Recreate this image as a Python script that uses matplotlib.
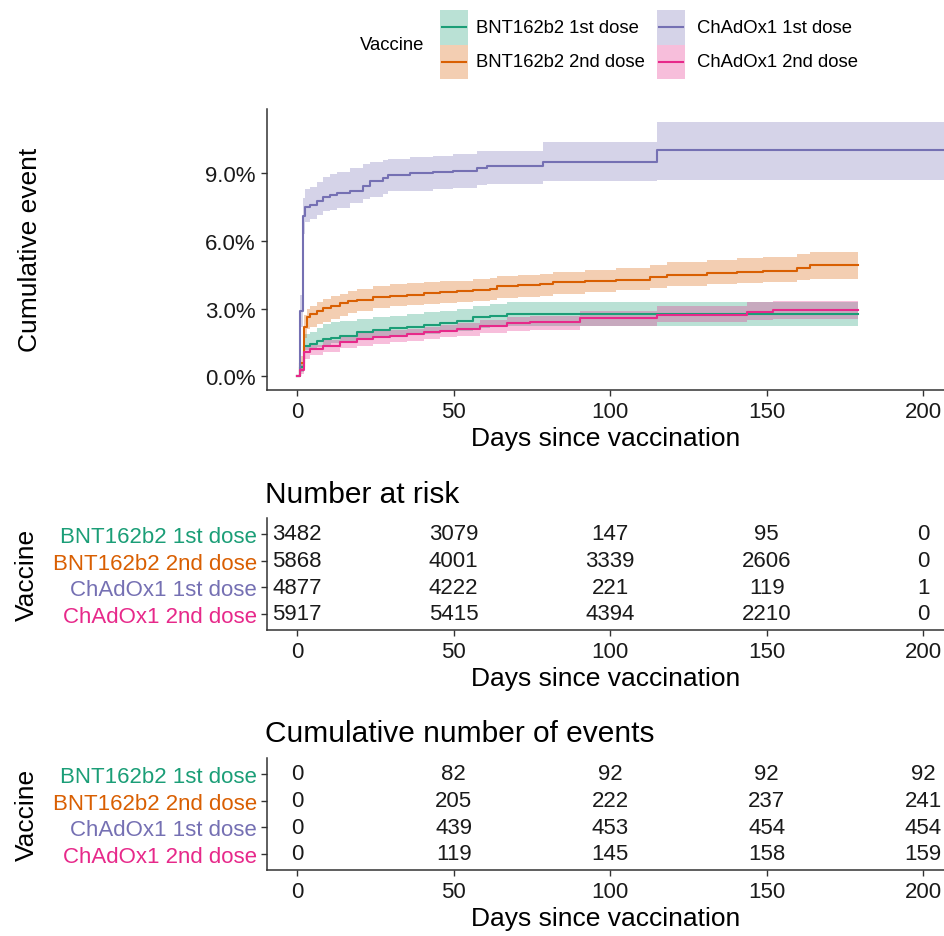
import numpy as np
import matplotlib
matplotlib.use("Agg")
import matplotlib.pyplot as plt
from matplotlib.patches import Rectangle

plt.rcParams['font.family'] = ['Liberation Sans', 'DejaVu Sans']

# Группы и цвета (Dark2)
groups = ["BNT162b2 1st dose", "BNT162b2 2nd dose", "ChAdOx1 1st dose", "ChAdOx1 2nd dose"]
colors = ["#1B9E77", "#D95F02", "#7570B3", "#E7298A"]

# Кумулятивная доля событий, % (ступенчатые кривые: день, оценка, нижняя и верхняя граница)
bnt1_t = [0, 1.0, 2.2, 4.15, 6.3, 8.4, 11, 13.7, 19.1, 24.4, 29.7, 35, 40.4, 45.7, 51, 56.3, 61.7, 67, 179.3]
bnt1_est = [0, 0.4, 1.36, 1.43, 1.55, 1.65, 1.71, 1.77, 1.95, 2.06, 2.12, 2.2, 2.27, 2.36, 2.46, 2.61, 2.68, 2.76, 2.76]
bnt1_hi = [0, 0.6, 1.87, 1.98, 2.15, 2.32, 2.4, 2.45, 2.54, 2.61, 2.68, 2.76, 2.83, 2.9, 2.98, 3.1, 3.2, 3.3, 3.3]
bnt1_lo = [0, 0.2, 1.15, 1.21, 1.32, 1.4, 1.48, 1.55, 1.65, 1.72, 1.77, 1.82, 1.87, 1.95, 2.02, 2.12, 2.2, 2.24, 2.24]

bnt2_t = [0, 1.0, 2.2, 3.1, 4.15, 6.3, 8.4, 11, 13.7, 16.4, 19.1, 24.4, 29.7, 35, 40.4, 45.7, 51, 56.3,
          61.7, 63.8, 70.7, 77.6, 81.9, 92, 102, 112.8, 118.1, 130.9, 140.5, 149, 159.6, 163.9, 179.3]
bnt2_est = [0, 0.6, 2.17, 2.61, 2.76, 2.89, 3.01, 3.13, 3.24, 3.32, 3.39, 3.52, 3.57, 3.62, 3.67, 3.73, 3.79, 3.83,
            3.86, 3.98, 4.03, 4.09, 4.16, 4.22, 4.28, 4.38, 4.5, 4.56, 4.63, 4.67, 4.78, 4.93, 4.93]
bnt2_hi = [0, 0.9, 2.7, 2.98, 3.1, 3.28, 3.42, 3.55, 3.66, 3.76, 3.86, 3.98, 4.09, 4.13, 4.16, 4.2, 4.23, 4.3,
           4.36, 4.45, 4.5, 4.55, 4.62, 4.7, 4.78, 4.92, 5.05, 5.13, 5.22, 5.27, 5.4, 5.52, 5.52]
bnt2_lo = [0, 0.3, 1.7, 2.09, 2.2, 2.3, 2.39, 2.55, 2.68, 2.8, 2.9, 3.02, 3.1, 3.16, 3.21, 3.25, 3.28, 3.33,
           3.37, 3.48, 3.52, 3.57, 3.66, 3.74, 3.82, 3.92, 4.01, 4.07, 4.12, 4.16, 4.25, 4.31, 4.31]

chad1_t = [0, 1.0, 1.8, 2.6, 4.2, 6.3, 8.4, 10.5, 12.7, 17, 21.2, 23.3, 27.6, 29.2, 36.1, 43.5, 49.9, 57.4,
           60.6, 78.7, 114.9, 207]
chad1_est = [0, 2.9, 7.11, 7.48, 7.58, 7.75, 7.92, 8.02, 8.11, 8.22, 8.44, 8.63, 8.76, 8.91, 8.99, 9.03, 9.1, 9.21,
             9.32, 9.5, 10.03, 10.03]
chad1_hi = [0, 3.6, 7.9, 8.29, 8.4, 8.6, 8.8, 8.95, 9.03, 9.2, 9.4, 9.47, 9.58, 9.62, 9.7, 9.77, 9.85, 9.95,
            9.99, 10.39, 11.27, 11.27]
chad1_lo = [0, 2.2, 6.3, 6.82, 6.95, 7.15, 7.3, 7.38, 7.45, 7.65, 7.85, 7.95, 8.08, 8.18, 8.22, 8.27, 8.32, 8.45,
            8.51, 8.66, 8.7, 8.7]

chad2_t = [0, 1.0, 2.2, 4.15, 8.4, 13.7, 19.1, 24.4, 29.7, 35, 40.4, 45.7, 51, 58.5, 67, 74.4, 90.4, 114.9,
           143.7, 152.2, 179.3]
chad2_est = [0, 0.3, 1.06, 1.21, 1.36, 1.53, 1.65, 1.72, 1.8, 1.88, 1.95, 2.02, 2.09, 2.21, 2.36, 2.4, 2.57, 2.71,
             2.86, 2.95, 2.95]
chad2_hi = [0, 0.5, 1.3, 1.4, 1.6, 1.78, 1.95, 2.0, 2.05, 2.1, 2.17, 2.27, 2.37, 2.5, 2.62, 2.68, 2.9, 3.13,
            3.28, 3.35, 3.35]
chad2_lo = [0, 0.1, 0.77, 0.95, 1.1, 1.25, 1.33, 1.42, 1.5, 1.58, 1.65, 1.72, 1.8, 1.9, 2.0, 2.05, 2.21, 2.4,
            2.48, 2.52, 2.52]

# Таблицы под графиком
table_times = [0, 50, 100, 150, 200]
at_risk = [
    [3482, 3079, 147, 95, 0],
    [5868, 4001, 3339, 2606, 0],
    [4877, 4222, 221, 119, 1],
    [5917, 5415, 4394, 2210, 0],
]
cum_events = [
    [0, 82, 92, 92, 92],
    [0, 205, 222, 237, 241],
    [0, 439, 453, 454, 454],
    [0, 119, 145, 158, 159],
]

curves = [
    (bnt1_t, bnt1_est, bnt1_lo, bnt1_hi),
    (bnt2_t, bnt2_est, bnt2_lo, bnt2_hi),
    (chad1_t, chad1_est, chad1_lo, chad1_hi),
    (chad2_t, chad2_est, chad2_lo, chad2_hi),
]

W, H = 945, 937
XLIM = (-9.7, 207.0)
AXC = "#333333"


def box(l, t, r, b):
    return [l / W, 1 - b / H, (r - l) / W, (b - t) / H]


def style_axis(ax):
    for s in ("top", "right"):
        ax.spines[s].set_visible(False)
    for s in ("left", "bottom"):
        ax.spines[s].set_color(AXC)
        ax.spines[s].set_linewidth(1.1)
    ax.tick_params(length=4, width=1, color=AXC, labelsize=16, labelcolor="#1a1a1a", pad=4)
    ax.set_xlim(XLIM)
    ax.set_xticks(table_times)


fig = plt.figure(figsize=(W / 100, H / 100), dpi=100)

# Основной график
ax = fig.add_axes(box(266.7, 110, 945, 390.7))
for (t, est, lo, hi), c in zip(curves, colors):
    ax.fill_between(t, lo, hi, step="post", color=c, alpha=0.3, lw=0)
for (t, est, lo, hi), c in zip(curves, colors):
    ax.step(t, est, where="post", color=c, lw=1.5)
style_axis(ax)
ax.set_ylim(-0.59, 11.83)
ax.set_yticks([0, 3, 6, 9], ["0.0%", "3.0%", "6.0%", "9.0%"])
ax.set_xlabel("Days since vaccination", fontsize=19, labelpad=3)
ax.set_ylabel("Cumulative event", fontsize=19)
ax.yaxis.set_label_coords(-0.331, 0.5)

# Легенда (вручную, в пикселях фигуры, как у ggplot: заголовок слева, 2 колонки)
lax = fig.add_axes([0, 0, 1, 1])
lax.set_xlim(0, W)
lax.set_ylim(H, 0)
lax.axis("off")
lax.text(360, 45, "Vaccine", fontsize=13.3, va="center", ha="left")
key_x = [440, 440, 657, 657]
text_x = [476, 476, 697, 697]
row_top = [11, 45.5, 11, 45.5]
for name, c, kx, tx, top in zip(groups, colors, key_x, text_x, row_top):
    lax.add_patch(Rectangle((kx, top), 27.5, 34.5, facecolor=c, alpha=0.3, edgecolor="none"))
    lax.plot([kx + 2, kx + 25.5], [top + 17.25] * 2, color=c, lw=1.5)
    lax.text(tx, top + 17.25, name, fontsize=13.3, va="center", ha="left")


# Таблицы риска
def risk_table(rect, title, title_y, values):
    tax = fig.add_axes(rect)
    for i, row in enumerate(values):
        for t, v in zip(table_times, row):
            tax.text(t, i + 1, str(v), ha="center", va="center", fontsize=16, color="#1a1a1a")
    style_axis(tax)
    tax.set_ylim(4.6, 0.4)
    tax.set_yticks([1, 2, 3, 4], groups)
    tax.tick_params(axis="y", pad=3)
    for lbl, c in zip(tax.get_yticklabels(), colors):
        lbl.set_color(c)
    tax.set_xlabel("Days since vaccination", fontsize=19, labelpad=3)
    tax.set_ylabel("Vaccine", fontsize=19)
    tax.yaxis.set_label_coords(-0.336, 0.5)
    fig.text(265 / W, 1 - (title_y + 2) / H, title, fontsize=21.5, va="center", ha="left")
    return tax


risk_table(box(266.7, 519, 945, 631), "Number at risk", 493, at_risk)
risk_table(box(266.7, 759, 945, 871), "Cumulative number of events", 732, cum_events)

fig.savefig("out.png", dpi=100)
